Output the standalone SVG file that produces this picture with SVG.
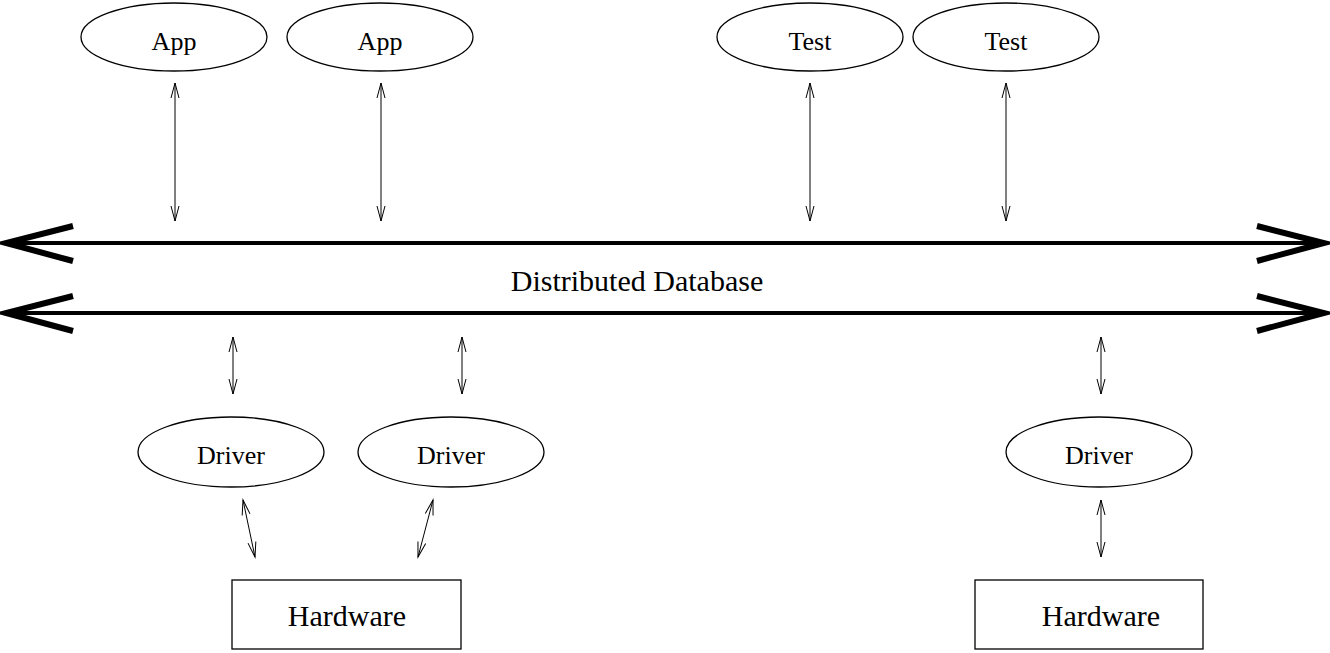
<svg xmlns="http://www.w3.org/2000/svg" width="1330" height="653" viewBox="0 0 1330 653">
  <defs>
    <marker id="tip" viewBox="-17 -6 19 12" markerWidth="19" markerHeight="12" refX="0" refY="0" orient="auto-start-reverse" markerUnits="userSpaceOnUse">
      <path d="M -15 -4 L 0 0 L -15 4" fill="none" stroke="#000" stroke-width="1"/>
    </marker>
  </defs>
  <style>
    .node ellipse, .node rect { fill: #fff; stroke: #000; stroke-width: 1.3; }
    .lbl { font-family: "Liberation Serif", serif; fill: #000; text-anchor: middle; }
    .small { font-size: 26px; }
    .big { font-size: 30px; }
    .link { stroke: #000; stroke-width: 1; fill: none; marker-start: url(#tip); marker-end: url(#tip); }
    .bus { stroke: #000; stroke-width: 4; fill: none; }
    .barb { stroke: #000; stroke-width: 6; fill: none; stroke-linejoin: miter; }
  </style>

  <!-- application and test clients -->
  <g id="app1" class="node"><ellipse cx="174" cy="37" rx="93" ry="34"/><text class="lbl small" x="174" y="50">App</text></g>
  <g id="app2" class="node"><ellipse cx="380" cy="37" rx="93" ry="34"/><text class="lbl small" x="380" y="50">App</text></g>
  <g id="test1" class="node"><ellipse cx="810" cy="37" rx="93" ry="34"/><text class="lbl small" x="810" y="50">Test</text></g>
  <g id="test2" class="node"><ellipse cx="1006" cy="37" rx="93" ry="34"/><text class="lbl small" x="1006" y="50">Test</text></g>

  <!-- database bus -->
  <g id="database">
    <line class="bus" x1="6" y1="243" x2="1324" y2="243"/>
    <path class="barb" d="M 73 226 L 6 243 L 73 261"/>
    <path class="barb" d="M 1257 226 L 1324 243 L 1257 261"/>
    <line class="bus" x1="6" y1="313" x2="1324" y2="313"/>
    <path class="barb" d="M 73 296 L 6 313 L 73 331"/>
    <path class="barb" d="M 1257 296 L 1324 313 L 1257 331"/>
    <text class="lbl big" x="637" y="291">Distributed Database</text>
  </g>

  <!-- device drivers -->
  <g id="driver1" class="node"><ellipse cx="231" cy="452" rx="93" ry="35"/><text class="lbl small" x="231" y="464">Driver</text></g>
  <g id="driver2" class="node"><ellipse cx="451" cy="452" rx="93" ry="35"/><text class="lbl small" x="451" y="464">Driver</text></g>
  <g id="driver3" class="node"><ellipse cx="1099" cy="452" rx="93" ry="35"/><text class="lbl small" x="1099" y="464">Driver</text></g>

  <!-- hardware -->
  <g id="hw1" class="node"><rect x="232" y="580" width="229" height="69"/><text class="lbl big" x="347" y="626">Hardware</text></g>
  <g id="hw2" class="node"><rect x="975" y="580" width="228" height="69"/><text class="lbl big" x="1101" y="626">Hardware</text></g>

  <!-- connectors -->
  <g id="connectors">
    <line class="link" x1="175" y1="83" x2="175" y2="221"/>
    <line class="link" x1="381" y1="83" x2="381" y2="221"/>
    <line class="link" x1="810" y1="83" x2="810" y2="221"/>
    <line class="link" x1="1006" y1="83" x2="1006" y2="221"/>
    <line class="link" x1="233" y1="337" x2="233" y2="394"/>
    <line class="link" x1="462" y1="337" x2="462" y2="394"/>
    <line class="link" x1="1101" y1="337" x2="1101" y2="394"/>
    <line class="link" x1="243" y1="500" x2="255" y2="557"/>
    <line class="link" x1="433" y1="500" x2="418" y2="557"/>
    <line class="link" x1="1101" y1="500" x2="1101" y2="557"/>
  </g>
</svg>
